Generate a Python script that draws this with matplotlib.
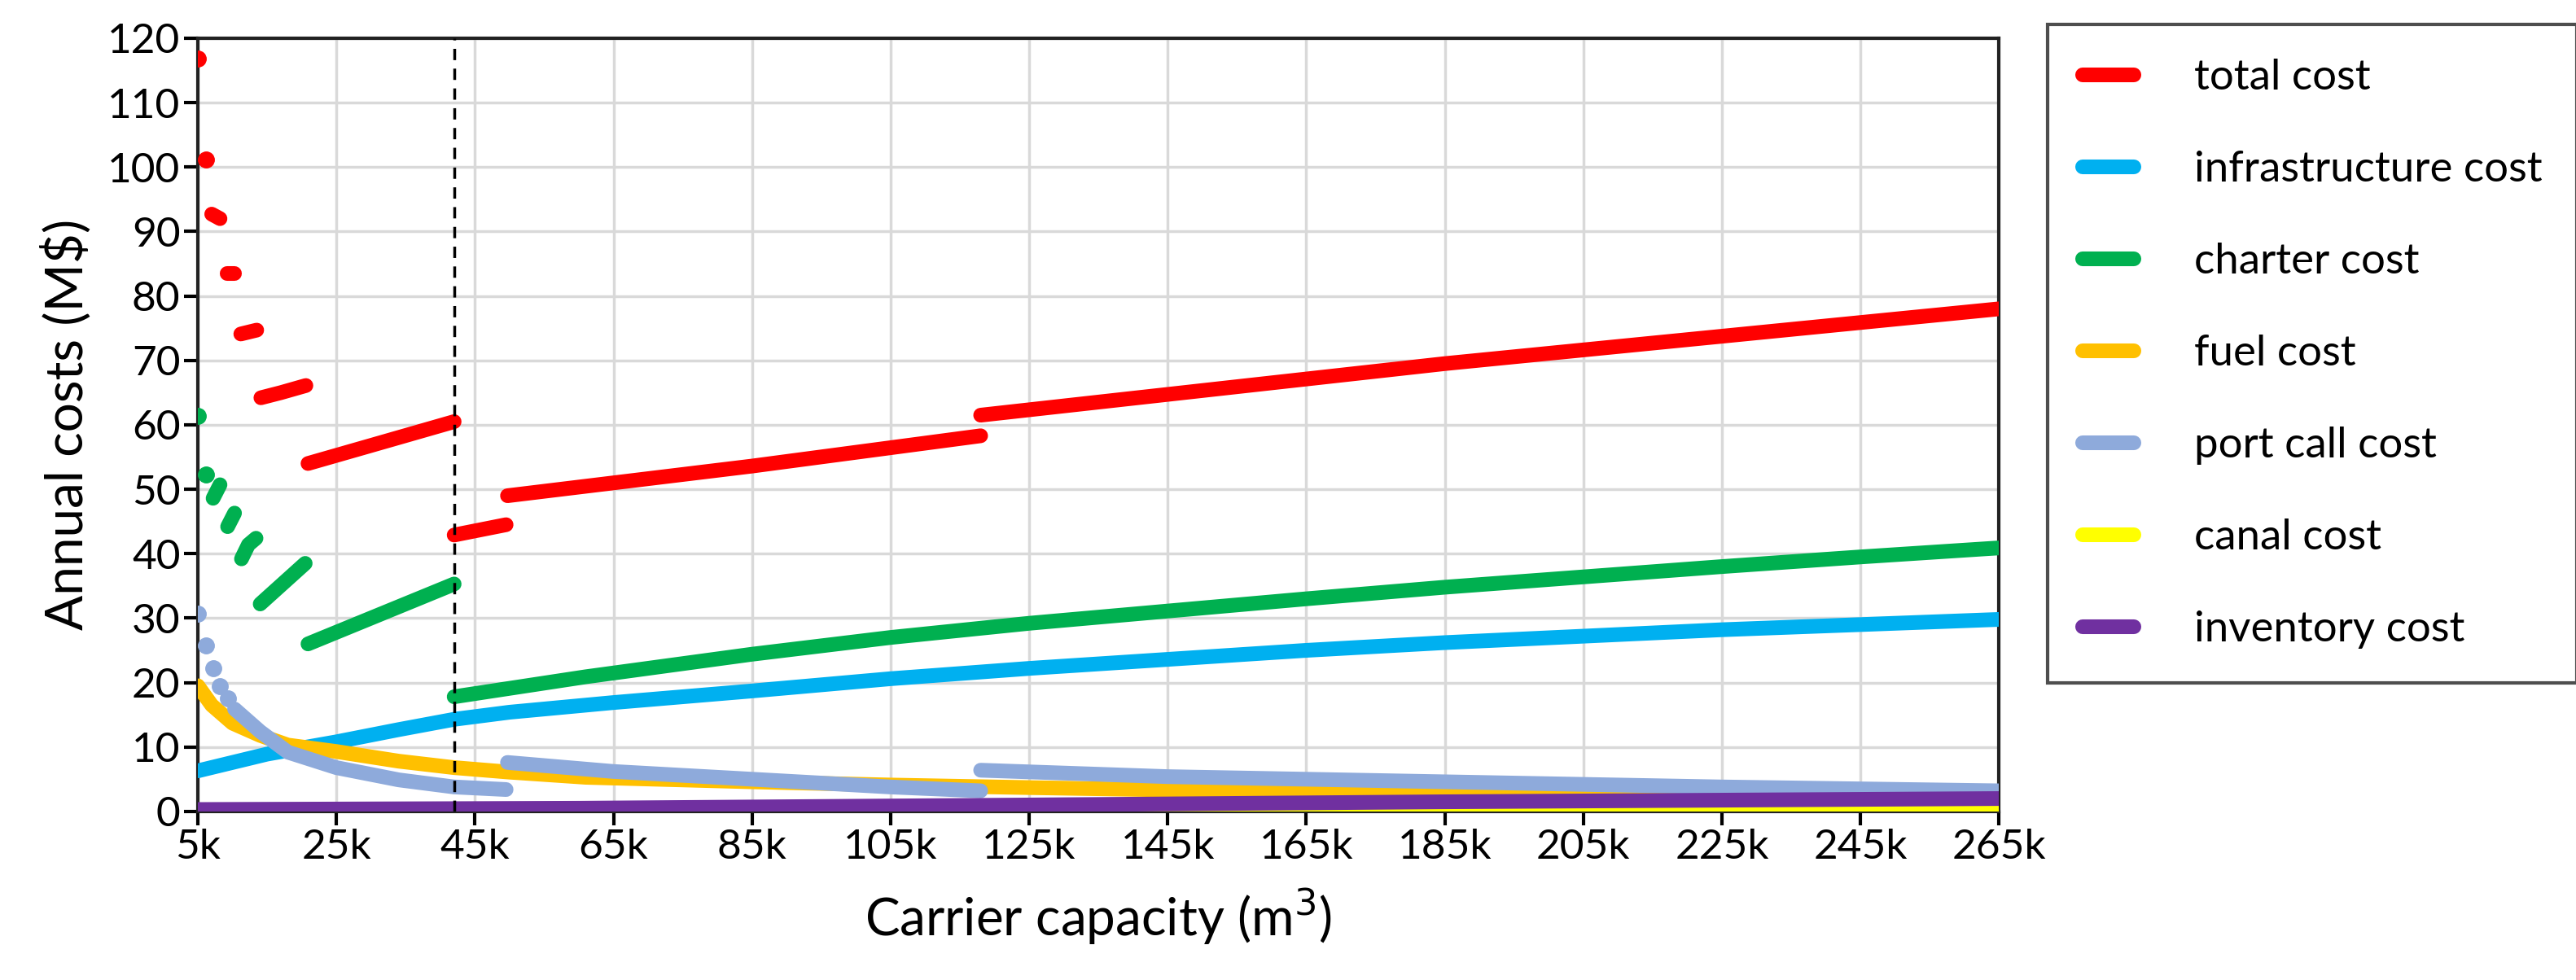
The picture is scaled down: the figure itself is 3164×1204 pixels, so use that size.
import numpy as np
import matplotlib
matplotlib.use("Agg")
import matplotlib.pyplot as plt
from matplotlib.lines import Line2D

plt.rcParams['font.family'] = ['Lato', 'DejaVu Sans']

# ---- data (x in k m3, y in M$) ; each series is a list of segments ----
total_x = [[5], [6.2], [7.0, 8.2], [9.2, 10.3], [11.2, 13.5], [14.1, 17, 20.6],
           [20.9, 30, 42], [42, 49.5], [49.7, 85, 118], [118, 185, 265]]
total_y = [[116.8], [101.2], [92.7, 92.0], [83.5, 83.5], [74.1, 74.7], [64.2, 65.0, 66.1],
           [54.0, 56.8, 60.5], [42.9, 44.5], [49.0, 53.6, 58.3], [61.5, 69.5, 78.0]]

infra_x = [[5, 15, 25, 34, 42, 50, 65, 85, 105, 125, 145, 165, 185, 205, 225, 245, 265]]
infra_y = [[6.3, 8.9, 10.8, 12.7, 14.3, 15.4, 16.9, 18.7, 20.6, 22.2, 23.6, 25.0, 26.2, 27.2, 28.2, 29.0, 29.8]]

charter_x = [[5], [6.2], [7.2, 8.2], [9.3, 10.3], [11.3, 12.3, 13.4], [14, 20.5], [20.9, 42],
             [42, 61, 85, 105, 125, 145, 165, 185, 205, 225, 245, 265]]
charter_y = [[61.4], [52.3], [48.6, 50.7], [44.2, 46.3], [39.2, 41.4, 42.4], [32.2, 38.5], [26.0, 35.3],
             [17.8, 20.9, 24.4, 27.0, 29.2, 31.1, 33.0, 34.8, 36.4, 38.0, 39.5, 40.9]]

fuel_x = [[5, 7, 10, 14, 18, 25, 34, 42, 50, 61, 85, 105, 125, 165, 205, 265]]
fuel_y = [[19.5, 16.5, 13.7, 11.8, 10.3, 9.3, 7.8, 6.8, 6.1, 5.3, 4.6, 4.1, 3.7, 3.0, 2.6, 2.1]]

port_x = [[5], [6.2], [7.2], [8.2], [9.3], [10.3, 14, 18, 25, 34, 42, 49.5],
          [49.7, 65, 85, 105, 118], [118, 145, 185, 225, 265]]
port_y = [[30.7], [25.8], [22.2], [19.5], [17.5], [15.9, 12.4, 9.2, 6.8, 4.9, 3.8, 3.4],
          [7.6, 6.2, 5.0, 3.8, 3.2], [6.4, 5.4, 4.6, 3.8, 3.2]]

canal_x = [[5, 265]]
canal_y = [[0.2, 0.4]]

inv_x = [[5, 60, 125, 185, 265]]
inv_y = [[0.3, 0.5, 1.0, 1.5, 2.0]]

dashed_x = 42
xticks = [5, 25, 45, 65, 85, 105, 125, 145, 165, 185, 205, 225, 245, 265]
xticklabels = [f"{t}k" for t in xticks]
yticks = list(range(0, 121, 10))

series = [
    ("total cost", "#ff0000", total_x, total_y),
    ("infrastructure cost", "#00b0f0", infra_x, infra_y),
    ("charter cost", "#00b050", charter_x, charter_y),
    ("fuel cost", "#ffc000", fuel_x, fuel_y),
    ("port call cost", "#8eaadb", port_x, port_y),
    ("canal cost", "#ffff00", canal_x, canal_y),
    ("inventory cost", "#7030a0", inv_x, inv_y),
]

fig = plt.figure(figsize=(31.64, 12.04), dpi=100)
ax = fig.add_axes([0.0768, 0.172, 0.6992, 0.789])

draw_order = [5, 6, 1, 3, 4, 2, 0]
lw = 13
for i in draw_order:
    name, col, xs, ys = series[i]
    for sx, sy in zip(xs, ys):
        if len(sx) == 1:
            ax.plot(sx, sy, 'o', color=col, markersize=14, zorder=3 + i * 0.01)
        else:
            ax.plot(sx, sy, '-', color=col, lw=lw, solid_capstyle='round', zorder=3 + i * 0.01)

ax.axvline(dashed_x, color='black', ls=(0, (4, 3)), lw=2.5, zorder=5)

ax.set_xlim(5, 265)
ax.set_ylim(0, 120)
ax.set_xticks(xticks)
ax.set_xticklabels(xticklabels)
ax.set_yticks(yticks)
ax.grid(True, color='#d9d9d9', lw=2.5, zorder=0)
ax.set_axisbelow(True)
for s in ax.spines.values():
    s.set_linewidth(3)
    s.set_color('#222222')
ax.tick_params(axis='both', labelsize=37, width=3, length=12, direction='out')
ax.set_xlabel("Carrier capacity (m$^3$)", fontsize=46, labelpad=18)
ax.set_ylabel("Annual costs (M$)", fontsize=46, labelpad=14)

handles = [Line2D([0], [0], color=c, lw=13, solid_capstyle='round') for _, c, _, _ in series]
labels = [n for n, _, _, _ in series]
leg = fig.legend(handles, labels, loc='upper left', bbox_to_anchor=(0.795, 0.975),
                 fontsize=38, frameon=True, fancybox=False, edgecolor='#222222',
                 handlelength=1.2, handletextpad=1.4, labelspacing=1.25,
                 borderpad=0.8, borderaxespad=0)
leg.get_frame().set_linewidth(3)

fig.savefig("out.png", dpi=100)
